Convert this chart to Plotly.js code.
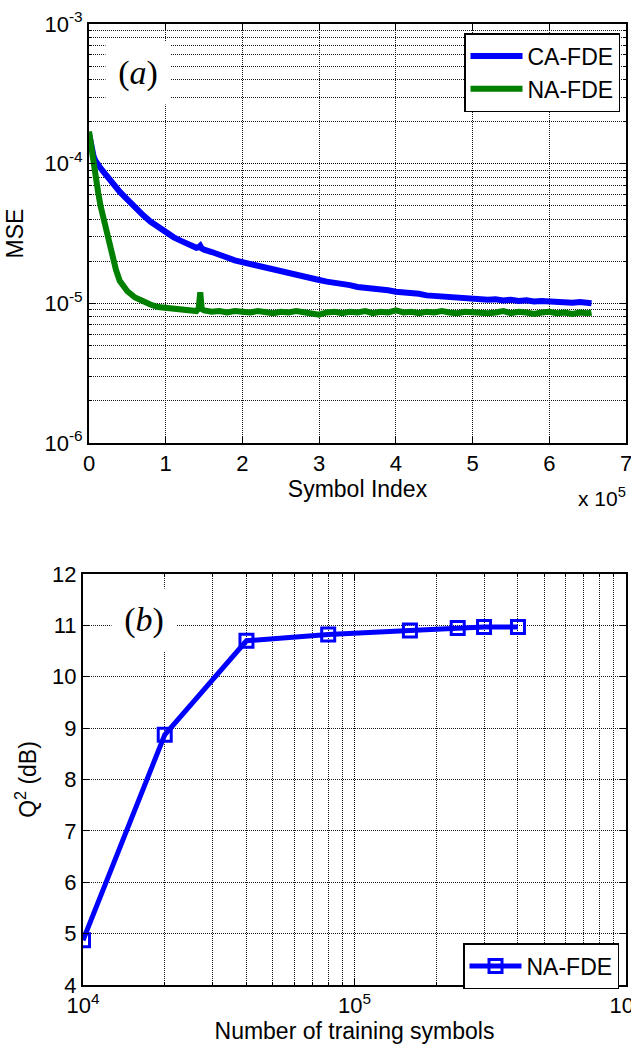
<!DOCTYPE html>
<html>
<head>
<meta charset="utf-8">
<script src="https://cdn.plot.ly/plotly-3.0.1.min.js"></script>
<style>html,body{margin:0;padding:0;background:#fff;}#chart{width:631px;height:1053px;}</style>
</head>
<body>
<div id="chart"></div>
<script>
// ---- Panel (a): MSE vs symbol index ----
var symbolIndex = [0, 2000, 4000, 6000, 8000, 10000, 12000, 15000, 20000, 25000, 30000, 35000, 40000, 45000, 50000,
  60000, 70000, 80000, 90000, 100000, 110000, 120000, 130000, 140000, 143000, 145000, 147000, 150000,
  160000, 170000, 180000, 190000, 200000, 210000, 220000, 230000, 240000, 250000, 260000, 270000, 280000, 290000,
  300000, 310000, 320000, 330000, 340000, 350000, 360000, 370000, 380000, 390000, 400000, 410000, 420000, 430000,
  440000, 450000, 460000, 470000, 480000, 490000, 500000, 510000, 520000, 530000, 540000, 550000, 560000, 570000,
  580000, 590000, 600000, 610000, 620000, 630000, 640000, 650000, 655000];

var mseCA = [1.65e-4, 1.38e-4, 1.22e-4, 1.13e-4, 1.06e-4, 1.01e-4, 9.8e-5, 9.3e-5, 8.6e-5, 7.9e-5, 7.3e-5, 6.8e-5, 6.3e-5, 5.9e-5, 5.5e-5,
  4.8e-5, 4.3e-5, 3.85e-5, 3.5e-5, 3.2e-5, 2.98e-5, 2.8e-5, 2.63e-5, 2.5e-5, 2.52e-5, 2.58e-5, 2.47e-5, 2.42e-5,
  2.33e-5, 2.2e-5, 2.13e-5, 2.03e-5, 1.97e-5, 1.9e-5, 1.84e-5, 1.79e-5, 1.72e-5, 1.68e-5, 1.62e-5, 1.58e-5, 1.53e-5, 1.5e-5,
  1.47e-5, 1.43e-5, 1.41e-5, 1.37e-5, 1.35e-5, 1.31e-5, 1.3e-5, 1.27e-5, 1.25e-5, 1.24e-5, 1.21e-5, 1.2e-5, 1.17e-5, 1.17e-5,
  1.14e-5, 1.13e-5, 1.12e-5, 1.1e-5, 1.11e-5, 1.08e-5, 1.09e-5, 1.07e-5, 1.06e-5, 1.07e-5, 1.05e-5, 1.06e-5, 1.04e-5, 1.05e-5,
  1.03e-5, 1.04e-5, 1.03e-5, 1.02e-5, 1.03e-5, 1.01e-5, 1.02e-5, 1.0e-5, 1.0e-5];

var mseNA = [1.7e-4, 1.4e-4, 1.2e-4, 1.05e-4, 9.2e-5, 7.6e-5, 6.2e-5, 5.0e-5, 3.8e-5, 3.0e-5, 2.3e-5, 1.75e-5, 1.45e-5, 1.32e-5, 1.22e-5,
  1.1e-5, 1.03e-5, 9.8e-6, 9.4e-6, 9.3e-6, 9.0e-6, 8.9e-6, 9.0e-6, 8.8e-6, 9.2e-6, 1.2e-5, 9.1e-6, 8.9e-6,
  8.7e-6, 8.8e-6, 8.6e-6, 8.8e-6, 8.7e-6, 8.6e-6, 8.8e-6, 8.7e-6, 8.5e-6, 8.7e-6, 8.6e-6, 8.8e-6, 8.6e-6, 8.4e-6,
  8.3e-6, 8.6e-6, 8.7e-6, 8.5e-6, 8.7e-6, 8.6e-6, 8.8e-6, 8.5e-6, 8.7e-6, 8.6e-6, 8.9e-6, 8.6e-6, 8.7e-6, 8.5e-6,
  8.7e-6, 8.6e-6, 8.8e-6, 8.6e-6, 8.5e-6, 8.7e-6, 8.6e-6, 8.7e-6, 8.5e-6, 8.6e-6, 8.8e-6, 8.5e-6, 8.7e-6, 8.6e-6,
  8.4e-6, 8.6e-6, 8.7e-6, 8.5e-6, 8.6e-6, 8.4e-6, 8.6e-6, 8.5e-6, 8.6e-6];

var xTickVals = [0, 100000, 200000, 300000, 400000, 500000, 600000, 700000];
var xTickText = ['0', '1', '2', '3', '4', '5', '6', '7'];
var mseTickVals = [1e-6, 1e-5, 1e-4, 1e-3];
var mseTickText = ['10<sup>-6</sup>', '10<sup>-5</sup>', '10<sup>-4</sup>', '10<sup>-3</sup>'];

// ---- Panel (b): Q^2 vs number of training symbols ----
var trainingSymbols = [10000, 20000, 40000, 80000, 160000, 240000, 300000, 400000];
var q2dB = [4.87, 8.87, 10.70, 10.82, 10.90, 10.95, 10.97, 10.97];
var trainTickVals = [1e4, 1e5, 1e6];
var trainTickText = ['10<sup>4</sup>', '10<sup>5</sup>', '10<sup>6</sup>'];

var seriesNames = ['CA-FDE', 'NA-FDE'];

var FONT = 'Liberation Sans, Arial, sans-serif';
var W = 631, H = 1053;
function px(x){ return x / W; }
function py(y){ return 1 - y / H; }

var GRIDC = 'rgba(0,0,0,0.9)';
var gridStyle = {
  showgrid: true, gridcolor: GRIDC, gridwidth: 1, griddash: '1px,1px',
  showline: true, linecolor: '#000', linewidth: 2, mirror: 'allticks',
  ticks: 'inside', ticklen: 6, tickcolor: '#000', tickwidth: 1,
  zeroline: false, ticklabeloverflow: 'allow',
  tickfont: {family: FONT, size: 22, color: '#000'}
};
function ax(extra){ return Object.assign({}, gridStyle, extra); }
var minorLog = {dtick: 'D1', showgrid: true, gridcolor: GRIDC, gridwidth: 1, griddash: '1px,1px',
  ticks: 'inside', ticklen: 3, tickcolor: '#000'};

var traces = [
  {x: symbolIndex, y: mseCA, name: seriesNames[0], type: 'scatter', mode: 'lines',
   line: {color: '#0000ff', width: 6}, xaxis: 'x', yaxis: 'y', legend: 'legend'},
  {x: symbolIndex, y: mseNA, name: seriesNames[1], type: 'scatter', mode: 'lines',
   line: {color: '#008000', width: 6}, xaxis: 'x', yaxis: 'y', legend: 'legend'},
  {x: trainingSymbols, y: q2dB, name: seriesNames[1], type: 'scatter', mode: 'lines+markers',
   line: {color: '#0000ff', width: 5},
   marker: {symbol: 'square-open', size: 13, color: '#0000ff', line: {color: '#0000ff', width: 3}},
   xaxis: 'x2', yaxis: 'y2', legend: 'legend2'}
];

var TITLEF = {family: FONT, size: 23, color: '#000'};
var layout = {
  width: W, height: H,
  margin: {l: 0, r: 0, t: 0, b: 0},
  paper_bgcolor: '#fff', plot_bgcolor: '#fff',
  font: {family: FONT, size: 22, color: '#000'},
  showlegend: true,
  xaxis: ax({domain: [px(89), px(626)], range: [0, 700000], tickmode: 'array',
    tickvals: xTickVals, ticktext: xTickText, anchor: 'y',
    title: {text: 'Symbol Index', font: TITLEF, standoff: 2}}),
  yaxis: ax({domain: [py(443), py(24)], type: 'log', range: [-6, -3], tickmode: 'array',
    tickvals: mseTickVals, ticktext: mseTickText, anchor: 'x', minor: minorLog,
    title: {text: 'MSE', font: TITLEF, standoff: 14}}),
  xaxis2: ax({domain: [px(83), px(626)], type: 'log', range: [4, 6], tickmode: 'array',
    tickvals: trainTickVals, ticktext: trainTickText, anchor: 'y2', minor: minorLog,
    title: {text: 'Number of training symbols', font: TITLEF, standoff: 4}}),
  yaxis2: ax({domain: [py(985), py(574)], range: [4, 12], dtick: 1, anchor: 'x2',
    title: {text: 'Q<sup>2</sup> (dB)', font: TITLEF, standoff: 9}}),
  legend: {x: px(620), y: py(33), xanchor: 'right', yanchor: 'top', bgcolor: '#fff',
    bordercolor: '#000', borderwidth: 1.5, font: {family: FONT, size: 23, color: '#000'},
    tracegroupgap: 0, itemwidth: 52},
  legend2: {x: px(619), y: py(943), xanchor: 'right', yanchor: 'top', bgcolor: '#fff',
    bordercolor: '#000', borderwidth: 1.5, itemwidth: 52,
    font: {family: FONT, size: 23, color: '#000'}},
  annotations: [
    {xref: 'paper', yref: 'paper', x: px(138), y: py(73), xanchor: 'center', yanchor: 'middle',
     text: '(<i>a</i>)', showarrow: false, bgcolor: '#fff', width: 62, height: 60,
     font: {family: 'Liberation Serif, Times New Roman, serif', size: 34, color: '#000'}},
    {xref: 'paper', yref: 'paper', x: px(144), y: py(620), xanchor: 'center', yanchor: 'middle',
     text: '(<i>b</i>)', showarrow: false, bgcolor: '#fff', width: 62, height: 60,
     font: {family: 'Liberation Serif, Times New Roman, serif', size: 34, color: '#000'}},
    {xref: 'paper', yref: 'paper', x: px(602), y: py(497), xanchor: 'center', yanchor: 'middle',
     text: 'x 10<sup>5</sup>', showarrow: false,
     font: {family: FONT, size: 21, color: '#000'}}
  ]
};

Plotly.newPlot('chart', traces, layout, {displayModeBar: false, staticPlot: true});
</script>
</body>
</html>
